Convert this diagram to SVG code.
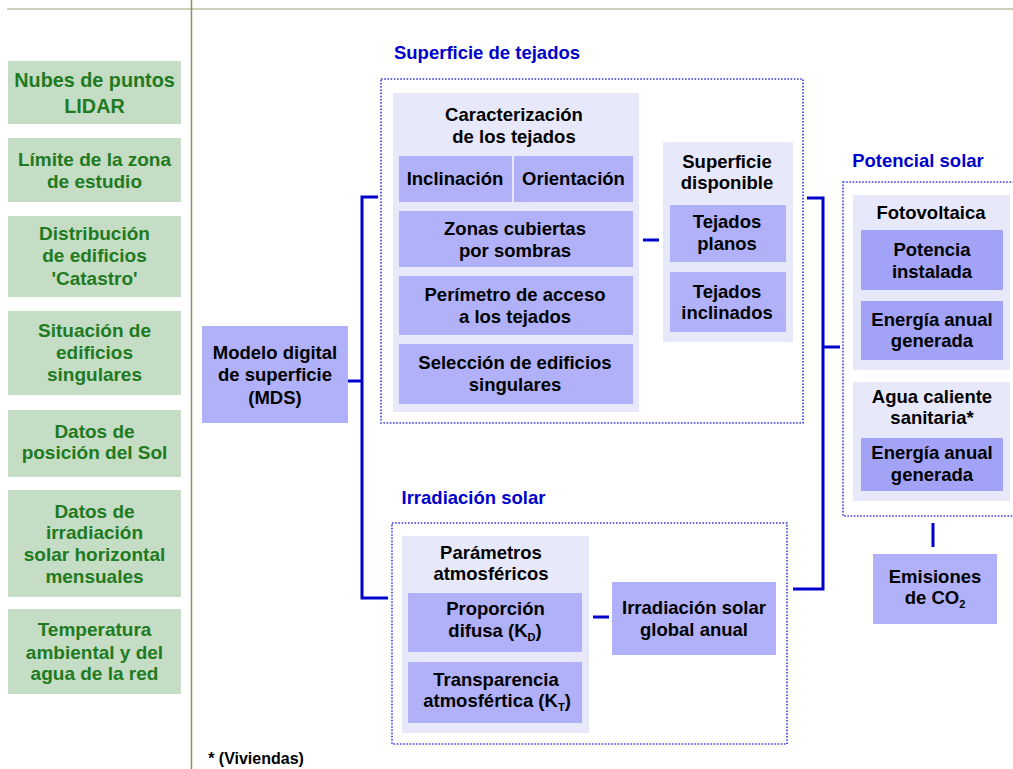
<svg xmlns="http://www.w3.org/2000/svg" width="1013" height="769" viewBox="0 0 1013 769">
<style>
text{font-family:"Liberation Sans",Arial,sans-serif;font-weight:bold;text-anchor:middle}
.src rect{fill:#c4ddc4}
.src text{fill:#217a21;font-size:19px}
.t{fill:#000;font-size:18.5px}
.title{fill:#0000cc;font-size:18.5px}
.dot{fill:none;stroke:#3a3ae0;stroke-width:1.6;stroke-dasharray:1.6 1.6}
.pan{fill:#e8e8fb}
.box{fill:#b1b1fa}
.box2{fill:#a2a2f6}
.sub{font-size:11px}
#connectors path{fill:none;stroke:#0000cc;stroke-width:3}
</style>

<line x1="7" y1="9" x2="1013" y2="9" stroke="#cfcfbb" stroke-width="2"/>
<line x1="191.5" y1="0" x2="191.5" y2="769" stroke="#8a8a6e" stroke-width="1.5"/>

<g class="src">
<g id="src-lidar"><rect x="8" y="61" width="173" height="63"/><text x="94.5" y="87" style="font-size:19.8px">Nubes de puntos</text><text x="94.5" y="113" style="font-size:19.8px">LIDAR</text></g>
<g id="src-limite"><rect x="8" y="138" width="173" height="64"/><text x="94.5" y="166">Límite de la zona</text><text x="94.5" y="188">de estudio</text></g>
<g id="src-catastro"><rect x="8" y="216" width="173" height="81"/><text x="94.5" y="240">Distribución</text><text x="94.5" y="262">de edificios</text><text x="94.5" y="285">'Catastro'</text></g>
<g id="src-singulares"><rect x="8" y="311" width="173" height="84"/><text x="94.5" y="337">Situación de</text><text x="94.5" y="359">edificios</text><text x="94.5" y="381">singulares</text></g>
<g id="src-sol"><rect x="8" y="410" width="173" height="67"/><text x="94.5" y="438">Datos de</text><text x="94.5" y="459">posición del Sol</text></g>
<g id="src-irrad"><rect x="8" y="490" width="173" height="107"/><text x="94.5" y="518">Datos de</text><text x="94.5" y="539">irradiación</text><text x="94.5" y="561">solar horizontal</text><text x="94.5" y="583">mensuales</text></g>
<g id="src-temp"><rect x="8" y="609" width="173" height="85"/><text x="94.5" y="636">Temperatura</text><text x="94.5" y="659">ambiental y del</text><text x="94.5" y="680">agua de la red</text></g>
</g>

<g id="connectors">
<path d="M348 381 H362"/>
<path d="M378 197 H362 V598 H388"/>
<path d="M643 240 H659"/>
<path d="M807 198 H823 V589 H793"/>
<path d="M823 347 H840"/>
<path d="M593 617 H609"/>
<path d="M933 523 V547"/>
</g>

<g id="mds"><rect class="box" x="202" y="326" width="146" height="97"/><text class="t" x="275" y="359">Modelo digital</text><text class="t" x="275" y="381">de superficie</text><text class="t" x="275" y="404">(MDS)</text></g>

<g id="grp-tejados">
<text class="title" x="487" y="59">Superficie de tejados</text>
<rect class="dot" x="381" y="79" width="422" height="344"/>
</g>

<g id="caracterizacion">
<rect class="pan" x="393" y="93" width="246" height="319"/>
<text class="t" x="514" y="121">Caracterización</text><text class="t" x="514" y="143">de los tejados</text>
</g>
<g id="inclinacion"><rect class="box" x="399" y="156" width="113" height="46"/><text class="t" x="455" y="185">Inclinación</text></g>
<g id="orientacion"><rect class="box" x="514" y="156" width="119" height="46"/><text class="t" x="573.5" y="185">Orientación</text></g>
<g id="zonas"><rect class="box" x="399" y="211" width="234" height="56"/><text class="t" x="515" y="235">Zonas cubiertas</text><text class="t" x="515" y="257">por sombras</text></g>
<g id="perimetro"><rect class="box" x="399" y="276" width="234" height="59"/><text class="t" x="515" y="301">Perímetro de acceso</text><text class="t" x="515" y="323">a los tejados</text></g>
<g id="seleccion"><rect class="box" x="399" y="344" width="234" height="60"/><text class="t" x="515" y="369">Selección de edificios</text><text class="t" x="515" y="391">singulares</text></g>

<g id="superficie-disponible">
<rect class="pan" x="663" y="142" width="130" height="200"/>
<text class="t" x="727" y="168">Superficie</text><text class="t" x="727" y="189">disponible</text>
</g>
<g id="tejados-planos"><rect class="box" x="670" y="205" width="116" height="57"/><text class="t" x="727" y="228">Tejados</text><text class="t" x="727" y="250">planos</text></g>
<g id="tejados-inclinados"><rect class="box" x="670" y="272" width="116" height="60"/><text class="t" x="727" y="298">Tejados</text><text class="t" x="727" y="319">inclinados</text></g>

<g id="grp-irradiacion">
<text class="title" x="473.5" y="504">Irradiación solar</text>
<rect class="dot" x="392" y="523" width="395" height="221"/>
</g>
<g id="parametros">
<rect class="pan" x="402" y="536" width="187" height="197"/>
<text class="t" x="491" y="559">Parámetros</text><text class="t" x="491" y="580">atmosféricos</text>
</g>
<g id="proporcion"><rect class="box" x="408" y="593" width="174" height="59"/><text class="t" x="495.5" y="615">Proporción</text><text class="t" x="495" y="637">difusa (K<tspan class="sub" dy="4">D</tspan><tspan dy="-4">)</tspan></text></g>
<g id="transparencia"><rect class="box" x="408" y="662" width="174" height="61"/><text class="t" x="496" y="686">Transparencia</text><text class="t" x="497" y="707">atmosfértica (K<tspan class="sub" dy="4">T</tspan><tspan dy="-4">)</tspan></text></g>
<g id="irradiacion-global"><rect class="box" x="612" y="582" width="164" height="73"/><text class="t" x="694" y="614">Irradiación solar</text><text class="t" x="694" y="636">global anual</text></g>

<g id="grp-potencial">
<text class="title" x="918" y="167">Potencial solar</text>
<rect class="dot" x="843" y="182" width="180" height="334"/>
</g>
<g id="fotovoltaica">
<rect class="pan" x="853" y="195" width="157" height="175"/>
<text class="t" x="931" y="219">Fotovoltaica</text>
</g>
<g id="potencia"><rect class="box2" x="861" y="230" width="142" height="60"/><text class="t" x="932" y="256">Potencia</text><text class="t" x="932" y="278">instalada</text></g>
<g id="energia-fv"><rect class="box2" x="861" y="301" width="142" height="59"/><text class="t" x="932" y="326">Energía anual</text><text class="t" x="932" y="347">generada</text></g>
<g id="acs">
<rect class="pan" x="853" y="382" width="157" height="119"/>
<text class="t" x="932" y="403">Agua caliente</text><text class="t" x="932" y="424">sanitaria*</text>
</g>
<g id="energia-acs"><rect class="box2" x="861" y="438" width="142" height="53"/><text class="t" x="932" y="459">Energía anual</text><text class="t" x="932" y="481">generada</text></g>

<g id="emisiones"><rect class="box" x="873" y="554" width="124" height="70"/><text class="t" x="935" y="583">Emisiones</text><text class="t" x="935" y="604">de CO<tspan class="sub" dy="4">2</tspan></text></g>

<text x="256" y="764" style="font-size:16px;fill:#000">* (Viviendas)</text>
</svg>
